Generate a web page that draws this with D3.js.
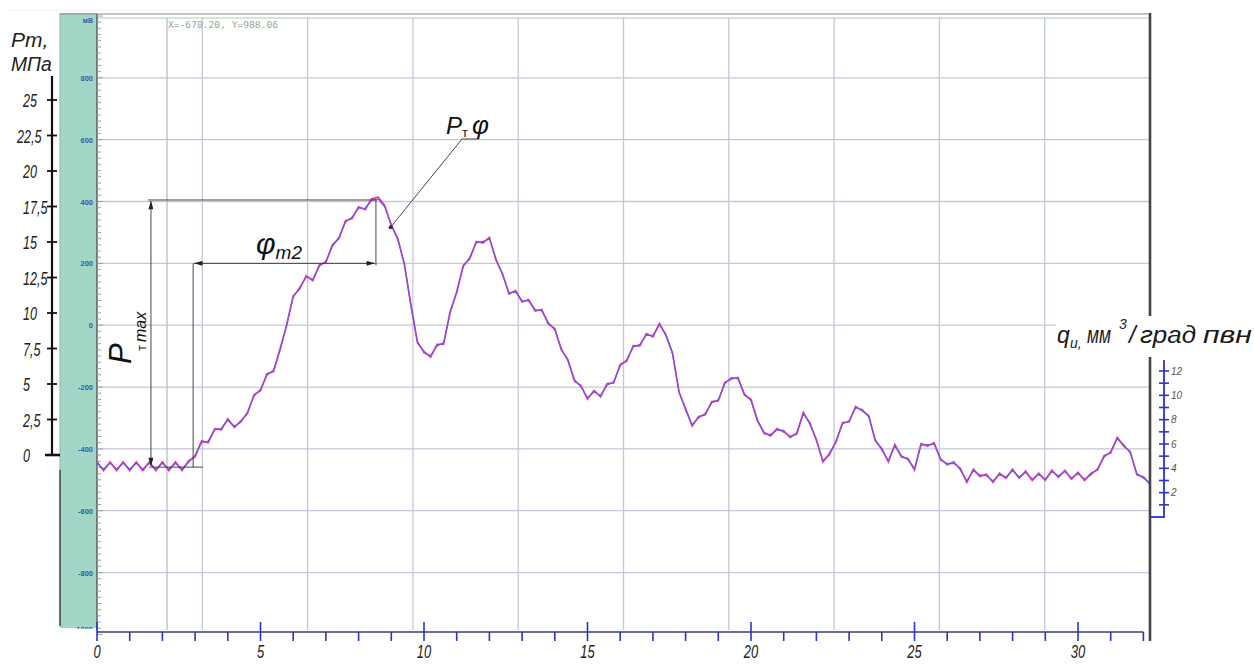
<!DOCTYPE html>
<html>
<head>
<meta charset="utf-8">
<script src="https://cdn.jsdelivr.net/npm/d3@7"></script>
<style>
  body { margin: 0; background: #fff; }
  svg { display: block; }
  .it { font-family: "Liberation Sans", "DejaVu Sans", sans-serif; font-style: italic; }
</style>
</head>
<body>
<svg id="chart" width="1254" height="664"></svg>
<script>
// ---- data ----
// sample step along the crank angle axis (deg), first sample at 0
const phiStep = 0.2;

// signal, mV (blue trace)
const mvBlue = [-447,-465,-447,-465,-447,-465,-447,-465,-447,-465,-447,-465,-447,-465,
  -444,-420,-379,-375,-340,-333,-308,-326,-314,-281,-230,-207,-162,-145,-81,4,
  90,123,155,149,190,208,255,285,333,350,378,379,404,408,382,327,275,201,61,-52,
  -90,-98,-67,-56,39,110,188,220,266,271,279,216,162,106,107,80,78,51,46,9,
  -16,-75,-116,-175,-200,-234,-216,-227,-194,-182,-132,-111,-71,-62,-32,-33,1,-29,-94,-213,
  -275,-321,-300,-285,-252,-240,-190,-169,-174,-221,-245,-305,-352,-353,-339,-340,-365,-347,-287,-314,
  -375,-437,-420,-373,-320,-308,-268,-272,-297,-369,-404,-437,-391,-421,-436,-463,-388,-386,-385,-431,
  -453,-441,-468,-503,-471,-484,-487,-503,-484,-490,-471,-490,-477,-497,-484,-497,-474,-487,-474,-493,
  -481,-497,-484,-463,-427,-408,-368,-386,-414,-479,-495,-509];

// signal, mV (magenta trace)
const mvMagenta = [-442,-470,-442,-470,-442,-470,-442,-470,-442,-470,-442,-470,-442,-470,
  -439,-425,-374,-380,-335,-338,-303,-331,-309,-286,-225,-212,-157,-150,-76,-1,
  95,118,160,144,195,203,260,280,338,345,383,374,409,414,387,322,280,196,66,-57,
  -85,-103,-62,-61,44,105,193,215,271,266,284,211,167,101,112,75,83,46,51,4,
  -11,-80,-111,-180,-195,-239,-211,-232,-189,-187,-127,-116,-66,-67,-27,-38,6,-34,-89,-218,
  -270,-326,-295,-290,-247,-245,-185,-174,-169,-226,-240,-310,-347,-358,-334,-345,-360,-352,-282,-319,
  -370,-442,-415,-378,-315,-313,-263,-277,-292,-374,-399,-442,-386,-426,-431,-468,-383,-391,-380,-436,
  -448,-446,-463,-508,-466,-489,-482,-508,-479,-495,-466,-495,-472,-502,-479,-502,-469,-492,-469,-498,
  -476,-502,-479,-468,-422,-413,-363,-391,-409,-484,-490,-514];

// oscilloscope scale (mV) and screen grid
const mvLabels = [800, 600, 400, 200, 0, -200, -400, -600, -800, -1000];
const mvGrid = [800, 600, 400, 200, 0, -200, -400, -600, -800];
const gridDivs = [1, 2, 3, 4, 5, 6, 7, 8, 9];
const cursorDiv = 0.665;
const cursorText = "X=-670.20, Y=988.06";

// pressure scale, MPa
const ptTicks = [0, 2.5, 5, 7.5, 10, 12.5, 15, 17.5, 20, 22.5, 25];
const ptLabels = ["0", "2,5", "5", "7,5", "10", "12,5", "15", "17,5", "20", "22,5", "25"];

// crank angle axis, deg
const degMajor = [0, 5, 10, 15, 20, 25, 30];
const degMinor = [1,2,3,4,6,7,8,9,11,12,13,14,16,17,18,19,21,22,23,24,26,27,28,29,31,32];

// injection rate scale
const qTicks = [1,2,3,4,5,6,7,8,9,10,11,12];
const qLabels = [2, 4, 6, 8, 10, 12];

// annotation anchors (deg, mV)
const ptMaxPhi = 1.65, ptMaxFrom = -459, ptMaxTo = 405;
const phiStart = 2.94, phiEnd = 8.53, phiLevel = 200;
const ptPhiPoint = [8.98, 317];

// ---- scales ----
const svg = d3.select("#chart");
const x = d3.scaleLinear().domain([0, 32]).range([97, 1143.4]);
const yMv = d3.scaleLinear().domain([-1000, 1000]).range([634.4, 16]);
const gx = d3.scaleLinear().domain([0, 10]).range([97, 1150]);
const yPt = d3.scaleLinear().domain([0, 25]).range([455, 100]);
const yQ = d3.scaleLinear().domain([0, 12]).range([517, 371]);

const pLeft = 97, pRight = 1150, pTop = 14, pBottom = 630;

// narrow drafting-style text: squeeze horizontally around its anchor
function squeeze(sel, sx) {
  sel.attr("transform", function () {
    const t = d3.select(this);
    return `translate(${t.attr("x")},${t.attr("y")}) scale(${sx},1)`;
  }).attr("x", 0).attr("y", 0);
}

// arrow marker
const defs = svg.append("defs");
defs.append("marker")
  .attr("id", "arr").attr("viewBox", "0 0 10 6")
  .attr("refX", 10).attr("refY", 3)
  .attr("markerWidth", 9).attr("markerHeight", 5)
  .attr("markerUnits", "userSpaceOnUse")
  .attr("orient", "auto-start-reverse")
  .append("path").attr("d", "M0,0 L10,3 L0,6 z").attr("fill", "#222");
defs.append("clipPath").attr("id", "plotclip")
  .append("rect").attr("x", pLeft).attr("y", pTop).attr("width", pRight - pLeft).attr("height", pBottom - pTop);
defs.append("clipPath").attr("id", "stripclip")
  .append("rect").attr("x", 55).attr("y", 10).attr("width", 45).attr("height", 619);

// faint scan line at very top
svg.append("line").attr("x1", 10).attr("x2", 1120).attr("y1", 10).attr("y2", 10)
  .attr("stroke", "#eee").attr("stroke-width", 1);

// teal strip with mV scale
svg.append("rect").attr("x", 60).attr("y", 13).attr("width", pLeft - 60).attr("height", pBottom - 15)
  .attr("fill", "#a2d7c7");
svg.append("line").attr("x1", 60).attr("x2", 60).attr("y1", 13).attr("y2", 470)
  .attr("stroke", "#9ab").attr("stroke-width", 1);
svg.append("line").attr("x1", 60).attr("x2", 60).attr("y1", 470).attr("y2", pBottom - 4)
  .attr("stroke", "#333").attr("stroke-width", 1.4);

// grid
svg.append("g").selectAll("line").data(mvGrid).join("line")
  .attr("x1", pLeft).attr("x2", pRight)
  .attr("y1", d => yMv(d)).attr("y2", d => yMv(d))
  .attr("stroke", "#c6c6da").attr("stroke-width", 1.3);
svg.append("g").selectAll("line").data(gridDivs.concat([cursorDiv])).join("line")
  .attr("x1", d => gx(d)).attr("x2", d => gx(d))
  .attr("y1", 18).attr("y2", pBottom)
  .attr("stroke", d => d === cursorDiv ? "#b8bcc8" : "#c6c6da").attr("stroke-width", 1.3);

// top frame lines
svg.append("line").attr("x1", 60).attr("x2", pRight).attr("y1", 14).attr("y2", 14)
  .attr("stroke", "#8a8a8a").attr("stroke-width", 1.2);
svg.append("line").attr("x1", pLeft).attr("x2", pRight).attr("y1", 18).attr("y2", 18)
  .attr("stroke", "#a9cfa9").attr("stroke-width", 1.2);

// left plot edge with minor mV ticks
svg.append("line").attr("x1", pLeft).attr("x2", pLeft).attr("y1", 14).attr("y2", pBottom)
  .attr("stroke", "#555").attr("stroke-width", 1.4);
svg.append("g").selectAll("line").data(d3.range(-1000, 1001, 20)).join("line")
  .attr("x1", pLeft).attr("x2", d => d % 200 === 0 ? pLeft + 6 : pLeft + 4)
  .attr("y1", d => yMv(d)).attr("y2", d => yMv(d))
  .attr("stroke", "#a0a0a0").attr("stroke-width", 1);

svg.append("g").attr("clip-path", "url(#stripclip)")
  .selectAll("text").data(mvLabels).join("text")
  .attr("x", 93).attr("y", d => d === -1000 ? 632 : yMv(d) + 3)
  .attr("text-anchor", "end")
  .attr("font-family", "Liberation Sans, sans-serif").attr("font-weight", "bold")
  .attr("font-size", 7.5).attr("fill", "#3a56a8")
  .text(d => d);
svg.append("text").attr("x", 93).attr("y", 23).attr("text-anchor", "end")
  .attr("font-family", "Liberation Sans, sans-serif").attr("font-weight", "bold")
  .attr("font-size", 7).attr("fill", "#3a56a8").text("мВ");

// cursor readout
svg.append("text").attr("x", 168).attr("y", 28)
  .attr("font-family", "DejaVu Sans Mono, monospace").attr("font-size", 8.5)
  .attr("fill", "#93a893").attr("textLength", 110).attr("lengthAdjust", "spacingAndGlyphs")
  .text(cursorText);

// traces
const line = d3.line().x((d, i) => x(i * phiStep)).y(d => yMv(d));
const traces = svg.append("g").attr("clip-path", "url(#plotclip)");
traces.append("path").attr("d", line(mvMagenta))
  .attr("fill", "none").attr("stroke", "#e0369c").attr("stroke-width", 1.7);
traces.append("path").attr("d", line(mvBlue))
  .attr("fill", "none").attr("stroke", "#6a5ae8").attr("stroke-width", 1.1);

// ---- annotations ----
const ann = svg.append("g").attr("stroke", "#333").attr("stroke-width", 0.9).attr("fill", "none");
// P_T max dimension
ann.append("line").attr("x1", x(1.56)).attr("x2", x(8.56))
  .attr("y1", yMv(ptMaxTo)).attr("y2", yMv(ptMaxTo));
ann.append("line").attr("x1", x(1.6)).attr("x2", x(3.24))
  .attr("y1", yMv(ptMaxFrom)).attr("y2", yMv(ptMaxFrom));
ann.append("line").attr("x1", x(ptMaxPhi)).attr("x2", x(ptMaxPhi))
  .attr("y1", yMv(ptMaxFrom) - 1).attr("y2", yMv(ptMaxTo) + 1)
  .attr("marker-start", "url(#arr)").attr("marker-end", "url(#arr)");
// phi_m2 dimension
ann.append("line").attr("x1", x(phiEnd)).attr("x2", x(phiEnd))
  .attr("y1", yMv(ptMaxTo)).attr("y2", yMv(phiLevel) + 2);
ann.append("line").attr("x1", x(phiStart)).attr("x2", x(phiStart))
  .attr("y1", yMv(phiLevel)).attr("y2", yMv(ptMaxFrom));
ann.append("line").attr("x1", x(phiStart) + 1).attr("x2", x(phiEnd) - 1)
  .attr("y1", yMv(phiLevel)).attr("y2", yMv(phiLevel))
  .attr("marker-start", "url(#arr)").attr("marker-end", "url(#arr)");
// P_T phi leader
const lx = 462, ly = 139;
ann.append("line").attr("x1", x(ptPhiPoint[0])).attr("y1", yMv(ptPhiPoint[1]))
  .attr("x2", lx).attr("y2", ly);
ann.append("line").attr("x1", lx).attr("x2", lx + 17).attr("y1", ly).attr("y2", ly);
svg.append("circle").attr("cx", x(ptPhiPoint[0])).attr("cy", yMv(ptPhiPoint[1])).attr("r", 2)
  .attr("fill", "#333");

const phiLab = svg.append("text").attr("class", "it").attr("x", 256).attr("y", 254).attr("fill", "#111");
phiLab.append("tspan").attr("font-size", 30).text("φ");
phiLab.append("tspan").attr("font-size", 19).attr("dy", 5).text("m2");

svg.append("text").attr("class", "it").attr("transform", "translate(131,364) rotate(-90)")
  .attr("font-size", 31).attr("fill", "#111").text("P");
const ptMaxSub = svg.append("text").attr("class", "it").attr("transform", "translate(146,351) rotate(-90)")
  .attr("font-size", 16).attr("fill", "#111");
ptMaxSub.append("tspan").attr("font-style", "normal").attr("font-size", 13).text("т");
ptMaxSub.append("tspan").attr("dx", 3).text("max");

const ptPhi = svg.append("text").attr("class", "it").attr("x", 446).attr("y", 134).attr("fill", "#111");
ptPhi.append("tspan").attr("font-size", 24).text("P");
ptPhi.append("tspan").attr("font-size", 13).attr("font-style", "normal").attr("dy", 3).text("т");
ptPhi.append("tspan").attr("font-size", 26).attr("dx", 4).attr("dy", -3).text("φ");

// ---- crank angle axis ----
const axY = 632;
svg.append("line").attr("x1", pLeft).attr("x2", x(32)).attr("y1", axY).attr("y2", axY)
  .attr("stroke", "#3b3f5c").attr("stroke-width", 1.4);
svg.append("g").selectAll("line").data(degMinor).join("line")
  .attr("x1", d => x(d)).attr("x2", d => x(d)).attr("y1", axY).attr("y2", axY + 9)
  .attr("stroke", "#2a35c8").attr("stroke-width", 1.6);
svg.append("g").selectAll("line").data(degMajor).join("line")
  .attr("x1", d => x(d)).attr("x2", d => x(d)).attr("y1", axY - 10).attr("y2", axY + 9)
  .attr("stroke", "#2a35c8").attr("stroke-width", 1.6);
svg.append("g").selectAll("text").data(degMajor).join("text")
  .attr("class", "it").attr("x", d => x(d)).attr("y", 658)
  .attr("text-anchor", "middle").attr("font-size", 18).attr("fill", "#222")
  .text(d => d)
  .call(squeeze, 0.72);

// ---- pressure axis ----
svg.append("line").attr("x1", 52).attr("x2", 52).attr("y1", 76).attr("y2", yPt(0))
  .attr("stroke", "#111").attr("stroke-width", 2.2);
svg.append("g").selectAll("line").data(ptTicks).join("line")
  .attr("x1", d => d === 0 ? 45 : 47).attr("x2", d => d === 0 ? 60 : 57)
  .attr("y1", d => yPt(d)).attr("y2", d => yPt(d))
  .attr("stroke", "#111").attr("stroke-width", d => d === 0 ? 2.6 : 1.8);
svg.append("g").selectAll("text").data(ptTicks).join("text")
  .attr("class", "it").attr("x", d => d === 22.5 ? 17 : 23)
  .attr("y", d => yPt(d) + 7)
  .attr("font-size", 18).attr("fill", "#222")
  .text((d, i) => ptLabels[i])
  .call(squeeze, 0.7);
svg.append("text").attr("class", "it").attr("x", 11).attr("y", 47)
  .attr("font-size", 21).attr("fill", "#222").text("Pm,");
svg.append("text").attr("class", "it").attr("x", 11).attr("y", 71)
  .attr("font-size", 21).attr("fill", "#222").text("МПа")
  .call(squeeze, 0.92);

// ---- right side ----
svg.append("line").attr("x1", pRight).attr("x2", pRight).attr("y1", 13).attr("y2", 641)
  .attr("stroke", "#444").attr("stroke-width", 2.6);
svg.append("rect").attr("x", 1056).attr("y", 316).attr("width", 198).attr("height", 41).attr("fill", "#fff");

const qTitle = svg.append("g").attr("class", "it").attr("fill", "#1a1a1a");
qTitle.append("text").attr("x", 1057).attr("y", 343).attr("font-size", 23).text("q");
qTitle.append("text").attr("x", 1070).attr("y", 348).attr("font-size", 14).text("и,");
qTitle.append("text").attr("x", 1087).attr("y", 343).attr("font-size", 23)
  .attr("textLength", 24).attr("lengthAdjust", "spacingAndGlyphs").text("мм");
qTitle.append("text").attr("x", 1119).attr("y", 329).attr("font-size", 14).text("3");
qTitle.append("text").attr("x", 1129).attr("y", 343).attr("font-size", 24).text("/");
qTitle.append("text").attr("x", 1140).attr("y", 343).attr("font-size", 23)
  .attr("textLength", 56).attr("lengthAdjust", "spacingAndGlyphs").text("град");
qTitle.append("text").attr("x", 1203).attr("y", 343).attr("font-size", 23)
  .attr("textLength", 49).attr("lengthAdjust", "spacingAndGlyphs").text("пвн");

const qx = 1164;
svg.append("line").attr("x1", qx).attr("x2", qx).attr("y1", 360).attr("y2", yQ(0))
  .attr("stroke", "#2a35c8").attr("stroke-width", 1.8);
svg.append("line").attr("x1", pRight).attr("x2", qx + 1).attr("y1", yQ(0)).attr("y2", yQ(0))
  .attr("stroke", "#2a35c8").attr("stroke-width", 1.8);
svg.append("g").selectAll("line").data(qTicks).join("line")
  .attr("x1", qx - 5).attr("x2", qx + 5)
  .attr("y1", d => yQ(d)).attr("y2", d => yQ(d))
  .attr("stroke", "#2a35c8").attr("stroke-width", 1.6);
svg.append("g").selectAll("text").data(qLabels).join("text")
  .attr("class", "it").attr("x", qx + 7).attr("y", d => yQ(d) + 3.5)
  .attr("font-size", 10).attr("fill", "#555")
  .text(d => d);
</script>
</body>
</html>
